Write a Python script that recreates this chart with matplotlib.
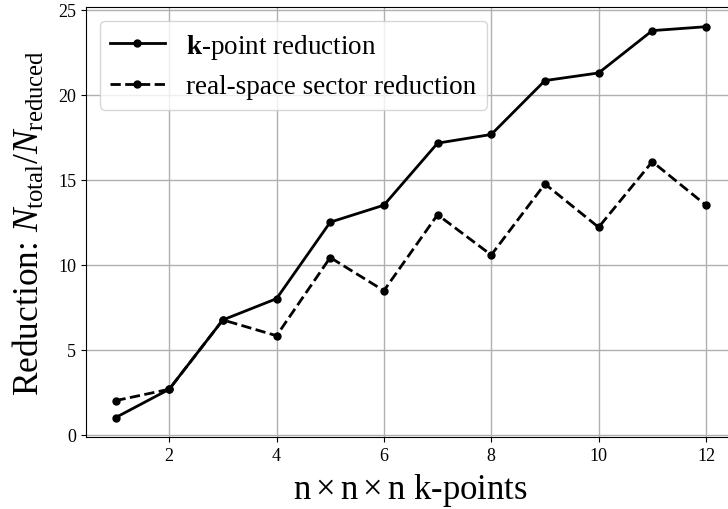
import matplotlib
matplotlib.use("Agg")
import matplotlib.pyplot as plt

plt.rcParams["font.family"] = ["Liberation Serif", "DejaVu Serif"]
plt.rcParams["mathtext.fontset"] = "custom"
plt.rcParams["mathtext.rm"] = "Liberation Serif"
plt.rcParams["mathtext.it"] = "Liberation Serif:italic"
plt.rcParams["mathtext.bf"] = "Liberation Serif:bold"

# Grid size n for an n x n x n k-point mesh
n_grid = [1, 2, 3, 4, 5, 6, 7, 8, 9, 10, 11, 12]
# Reduction factors N_total / N_reduced
kpoint_reduction = [1.0, 2.67, 6.75, 8.0, 12.5, 13.5, 17.15, 17.66, 20.83, 21.28, 23.77, 24.0]
sector_reduction = [2.0, 2.67, 6.75, 5.82, 10.42, 8.47, 12.94, 10.57, 14.75, 12.2, 16.06, 13.5]

fig = plt.figure(figsize=(7.28, 5.10), dpi=100)
ax = fig.add_axes([0.1181, 0.1408, 0.8922, 0.8432])

ax.plot(n_grid, kpoint_reduction, "-o", color="black", lw=2, ms=5,
        label=r"$\mathbf{k}$-point reduction")
ax.plot(n_grid, sector_reduction, "--o", color="black", lw=2, ms=5,
        label="real-space sector reduction")

ax.grid(True, color="#b0b0b0", lw=1)
ax.set_axisbelow(True)
ax.set_yticks([0, 5, 10, 15, 20, 25])
ax.set_xticks([2, 4, 6, 8, 10, 12])
ax.tick_params(labelsize=13)

ax.set_xlabel(r"$\mathrm{n}\times\mathrm{n}\times\mathrm{n}$ k-points", fontsize=25, labelpad=5)
ax.set_ylabel(r"Reduction: $N_\mathrm{total}/N_\mathrm{reduced}$", fontsize=25.5, labelpad=8)

ax.legend(loc="upper left", fontsize=19.5)

fig.savefig("out.png", dpi=100)
